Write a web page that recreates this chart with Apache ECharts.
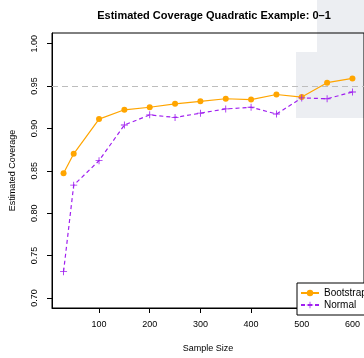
<!DOCTYPE html>
<html>
<head>
<meta charset="utf-8">
<script src="https://cdn.jsdelivr.net/npm/echarts@6/dist/echarts.min.js"></script>
<style>
  html, body { margin: 0; padding: 0; background: #fff; }
  #chart { width: 364px; height: 358px; }
</style>
</head>
<body>
<div id="chart"></div>
<script>
// sample sizes and estimated coverage
var sampleSizes = [30, 50, 100, 150, 200, 250, 300, 350, 400, 450, 500, 550, 600];
var bootstrap = [0.847, 0.870, 0.911, 0.922, 0.925, 0.929, 0.932, 0.935, 0.934, 0.940, 0.937, 0.954, 0.959];
var normal = [0.731, 0.833, 0.862, 0.904, 0.916, 0.913, 0.918, 0.923, 0.925, 0.917, 0.936, 0.935, 0.943];
var xTicks = [100, 200, 300, 400, 500, 600];
var yTicks = [0.70, 0.75, 0.80, 0.85, 0.90, 0.95, 1.00];
var nominal = 0.95;

var font = "'Liberation Sans', Arial, sans-serif";
var plusPath = "path://M4.4,0H5.6V4.4H10V5.6H5.6V10H4.4V5.6H0V4.4H4.4Z";

function pairs(ys) {
  return sampleSizes.map(function (x, i) { return [x, ys[i]]; });
}

var chart = echarts.init(document.getElementById("chart"));
chart.setOption({
  animation: false,
  textStyle: { fontFamily: font },
  title: {
    text: "Estimated Coverage Quadratic Example: 0\u20131",
    left: 209,
    top: 5,
    textAlign: "center",
    textStyle: { fontSize: 11, fontWeight: "bold", color: "#000", fontFamily: font }
  },
  graphic: [
    { type: "rect", z: -10, silent: true, shape: { x: 317, y: 0, width: 47, height: 52 }, style: { fill: "#eceef2" } },
    { type: "rect", z: -10, silent: true, shape: { x: 296, y: 52, width: 68, height: 66 }, style: { fill: "#eceef2" } }
  ],
  grid: {
    left: 51, top: 33, right: -4, bottom: 42,
    show: true, borderColor: "#000", borderWidth: 1, backgroundColor: "transparent"
  },
  legend: {
    left: 297, top: 283,
    orient: "vertical",
    backgroundColor: "#fff",
    borderColor: "#000", borderWidth: 1,
    padding: [5, 20, 5, 3],
    itemGap: 2,
    itemWidth: 18, itemHeight: 8,
    textStyle: { fontSize: 10, color: "#000", fontFamily: font },
    data: ["Bootstrap", "Normal"]
  },
  xAxis: {
    type: "value",
    min: 7.2, max: 622.8,
    name: "Sample Size",
    nameLocation: "middle",
    nameGap: 36,
    nameTextStyle: { fontSize: 9, color: "#000" },
    axisLine: { show: true, lineStyle: { color: "#000" } },
    axisTick: { show: true, length: 5, customValues: xTicks, lineStyle: { color: "#000" } },
    axisLabel: { customValues: xTicks, fontSize: 9, color: "#000", margin: 12 },
    splitLine: { show: false }
  },
  yAxis: {
    type: "value",
    min: 0.6881, max: 1.0126,
    name: "Estimated Coverage",
    nameLocation: "middle",
    nameGap: 35,
    nameTextStyle: { fontSize: 9, color: "#000" },
    axisLine: { show: true, lineStyle: { color: "#000" } },
    axisTick: { show: true, length: 5, customValues: yTicks, lineStyle: { color: "#000" } },
    axisLabel: {
      customValues: yTicks, fontSize: 9, color: "#000", margin: 13, rotate: 90,
      formatter: function (v) { return v.toFixed(2); }
    },
    splitLine: { show: false }
  },
  series: [
    {
      name: "Bootstrap",
      type: "line",
      data: pairs(bootstrap),
      symbol: "circle",
      symbolSize: 6,
      color: "#FFA500",
      lineStyle: { width: 1.2, color: "#FFA500" },
      itemStyle: { color: "#FFA500" },
      markLine: {
        silent: true,
        symbol: "none",
        label: { show: false },
        lineStyle: { color: "#bdbdbd", type: [6, 4], width: 1 },
        data: [{ yAxis: nominal }]
      }
    },
    {
      name: "Normal",
      type: "line",
      data: pairs(normal),
      symbol: plusPath,
      symbolSize: 7,
      color: "#A020F0",
      lineStyle: { width: 1.2, color: "#A020F0", type: [4, 3] },
      itemStyle: { color: "#A020F0" }
    }
  ]
});
</script>
</body>
</html>
